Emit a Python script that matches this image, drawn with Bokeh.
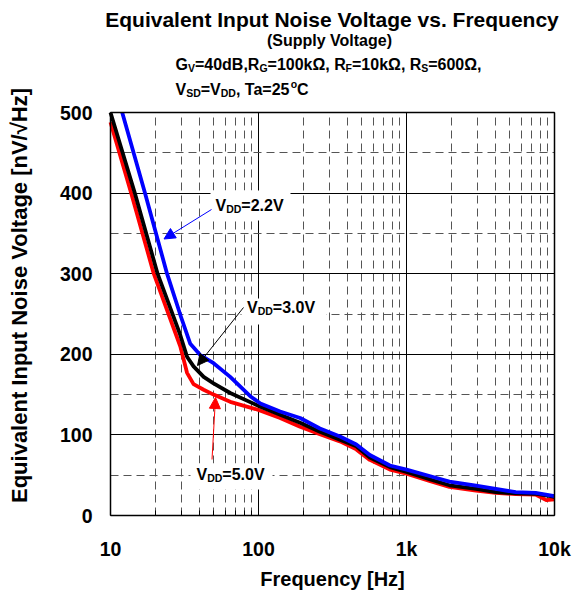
import math
from bokeh.plotting import figure
from bokeh.models import (Label, Arrow, NormalHead, BoxAnnotation, FixedTicker, Range1d,
                          LogAxis, LinearAxis, Grid)
from bokeh.embed import file_html
from bokeh.resources import INLINE

# ---------------- data ----------------
freq_22 = [12, 17.1, 24.1, 30, 34.6, 40.4, 49.7, 64.4, 87.9, 103, 140, 191, 260,
           355, 458, 565, 773, 1000, 1430, 1950, 2950, 4010, 5470, 7450, 10000]
noise_22 = [500, 400, 300, 246, 213, 199, 189, 172, 148, 139, 129, 121, 108,
            98, 88, 75, 62, 57, 49, 42, 37, 33, 29, 28, 24]

freq_30 = [10, 14.6, 20.8, 29.6, 32.9, 36.4, 42.6, 49.7, 64.4, 100, 140, 191, 260,
           355, 458, 565, 773, 1000, 1430, 1950, 2950, 4010, 5470, 7450, 10000]
noise_30 = [500, 400, 300, 224, 197, 185, 172, 164, 152, 136, 125, 115, 104,
            94, 86, 72, 60, 54, 45, 37.5, 33, 29, 27.5, 27, 23]

freq_50 = [10, 13.8, 19.6, 29.6, 32.9, 36.4, 42.6, 49.7, 64.4, 100, 140, 191, 260,
           355, 458, 565, 773, 1000, 1430, 1950, 2950, 4010, 5470, 7450, 8800, 10000]
noise_50 = [488, 400, 300, 210, 177, 163, 156, 150, 141, 131, 121, 110, 101,
            92, 82, 69, 57, 52, 43, 35.5, 31, 28, 26.5, 26, 19, 20]

x_ticks = [10, 100, 1000, 10000]
x_tick_labels = ["10", "100", "1k", "10k"]
y_ticks = [0, 100, 200, 300, 400, 500]
y_minor = [50, 150, 250, 350, 450]

title = "Equivalent Input Noise Voltage vs. Frequency"
subtitle = "(Supply Voltage)"
x_title = "Frequency [Hz]"
y_title = "Equivalent Input Noise Voltage [nV/\u221aHz]"

FONT = "Liberation Sans"
W, H = 573, 594
SHIFT = -6  # correction of the rendered text baseline

# page pixel -> data coordinate helpers (plot area: x 110..554, y 112..515)
def fx(px):
    return 10 ** (1 + (px - 110) / 148.0)

def fy(py):
    return (515 - py) * 500.0 / 403.0

# ---------------- figure (frame covers the whole canvas) ----------------
p = figure(width=W, height=H, x_axis_type="log",
           x_range=Range1d(fx(0), fx(W)), y_range=Range1d(fy(H), fy(0)),
           x_axis_location=None, y_axis_location=None,
           output_backend="svg", toolbar_location=None,
           min_border=0)
p.title.visible = False
p.background_fill_color = "white"
p.border_fill_color = "white"
p.outline_line_color = None
p.xgrid.visible = False
p.ygrid.visible = False

x_minor = [m * d for d in x_ticks[:-1] for m in range(2, 10)]
xticker = FixedTicker(ticks=x_ticks, minor_ticks=x_minor)
yticker = FixedTicker(ticks=y_ticks, minor_ticks=y_minor)
xb = (x_ticks[0], x_ticks[-1])
yb = (y_ticks[0], y_ticks[-1])

for dim, tk, b, cb in [(0, xticker, xb, yb), (1, yticker, yb, xb)]:
    g = Grid(dimension=dim, ticker=tk, bounds=b, cross_bounds=cb,
             grid_line_color="black", grid_line_width=1,
             minor_grid_line_color="#555555", minor_grid_line_width=1,
             minor_grid_line_dash="8 5")
    p.add_layout(g)

# white boxes behind the annotation texts
for (l, r, t, b) in [(210, 290, 190, 220), (241, 326, 298, 324), (190, 272, 463, 489)]:
    p.add_layout(BoxAnnotation(left=fx(l), right=fx(r), top=fy(t), bottom=fy(b),
                               fill_color="white", fill_alpha=1, line_color=None,
                               level="underlay"))

# axes
xaxis = LogAxis(fixed_location=yb[0], bounds=xb, ticker=xticker,
                major_label_overrides={t: l for t, l in zip(x_ticks, x_tick_labels)})
yaxis = LinearAxis(fixed_location=xb[0], bounds=yb, ticker=yticker)
for ax in (xaxis, yaxis):
    ax.major_tick_line_color = None
    ax.minor_tick_line_color = None
    ax.axis_line_color = "black"
    ax.axis_line_width = 1.5
    ax.major_label_text_font = FONT
    ax.major_label_text_font_style = "bold"
    ax.major_label_text_font_size = "19.5px"
    ax.major_label_text_color = "black"
xaxis.minor_tick_line_color = "black"
xaxis.minor_tick_in = 5
xaxis.minor_tick_out = 0
xaxis.major_label_standoff = 16
yaxis.major_label_standoff = 12
p.add_layout(xaxis, "below")
p.add_layout(yaxis, "left")

# top and right frame edges
top_ax = LogAxis(fixed_location=yb[1], bounds=xb, ticker=FixedTicker(ticks=[]),
                 axis_line_color="black", axis_line_width=1.5)
right_ax = LinearAxis(fixed_location=xb[1], bounds=yb, ticker=FixedTicker(ticks=[]),
                      axis_line_color="black", axis_line_width=1.5)
p.add_layout(top_ax, "above")
p.add_layout(right_ax, "right")

# curves
p.line(freq_50, noise_50, line_color="#ff0000", line_width=3.8, line_join="round")
p.line(freq_30, noise_30, line_color="black", line_width=3.8, line_join="round")
p.line(freq_22, noise_22, line_color="#0000ff", line_width=3.8, line_join="round")

# text width table (Arial bold metrics)
WID = {" ": 278, "(": 333, ")": 333, ",": 278, ".": 278, "=": 584, "B": 722, "C": 722,
       "D": 722, "F": 611, "G": 778, "R": 722, "S": 667, "T": 611, "V": 667, "a": 556,
       "d": 611, "k": 556, "o": 611, "\u03a9": 790}

def tw(s, size):
    return sum(WID.get(c, 556) for c in s) * size / 1000.0

def label(x, y, text, size, align="left", baseline="alphabetic", angle=0.0, color="black",
          shift=SHIFT):
    p.add_layout(Label(x=fx(x), y=fy(y + shift), text=text, text_font=FONT,
                       text_font_style="bold", text_font_size=f"{size}px",
                       text_baseline=baseline, text_align=align, angle=angle,
                       text_color=color))

def rich(x0, base, segs, color="black"):
    x = x0
    for t, s, dy in segs:
        label(x, base + dy, t, s, color=color)
        x += tw(t, s)

# titles
label(331.5, 25, title, 21, align="center")
label(329, 46, subtitle, 16, align="center")
M, S = 16, 10.5
rich(175, 70, [("G", M, 0), ("V", S, 3), ("=40dB,R", M, 0), ("G", S, 3), ("=100k\u03a9, R", M, 0),
               ("F", S, 3), ("=10k\u03a9, R", M, 0), ("S", S, 3), ("=600\u03a9,", M, 0)])
rich(175, 95, [("V", M, 0), ("SD", S, 3), ("=V", M, 0), ("DD", S, 3), (", Ta=25", M, 0),
               ("o", S, -6), ("C", M, 0)])

# axis titles
label(332, 584, x_title, 20, align="center")
label(19, 295, y_title, 22, align="center", baseline="middle", angle=math.pi / 2, shift=0)

# curve labels
L, LS = 16, 10.5
rich(215, 211, [("V", L, 0), ("DD", LS, 3), ("=2.2V", L, 0)])
rich(246.5, 313, [("V", L, 0), ("DD", LS, 3), ("=3.0V", L, 0)])
rich(196, 480, [("V", L, 0), ("DD", LS, 3), ("=5.0V", L, 0)])

# arrows
for (x0, y0, x1, y1, c) in [(211, 209, 163.5, 238.5, "#0000ff"),
                            (243, 307, 197, 365, "black"),
                            (211.5, 459, 215, 397, "#ff0000")]:
    p.add_layout(Arrow(x_start=fx(x0), y_start=fy(y0), x_end=fx(x1), y_end=fy(y1),
                       line_color=c, line_width=1,
                       end=NormalHead(size=11, fill_color=c, line_color=c)))

open("out.html", "w").write(file_html(p, INLINE))
